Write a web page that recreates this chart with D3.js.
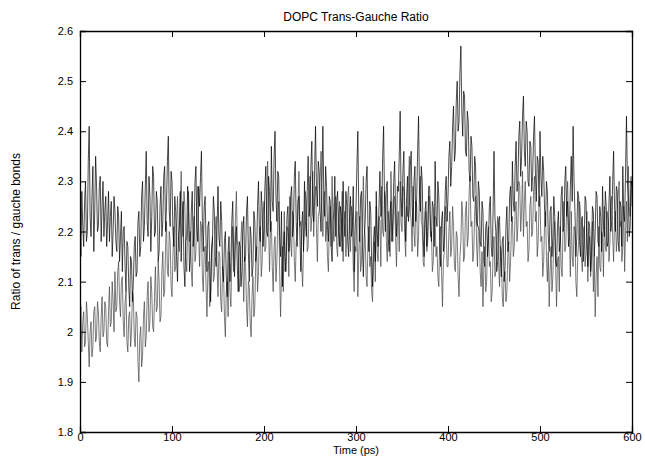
<!DOCTYPE html>
<html>
<head>
<meta charset="utf-8">
<script src="https://cdn.jsdelivr.net/npm/d3@7"></script>
<style>
  body { margin: 0; background: white; }
  svg { display: block; font-family: "Liberation Sans", Arial, sans-serif; }
</style>
</head>
<body>
<svg id="chart"></svg>
<script>
var WIDTH = 645,
    HEIGHT = 456,
    MARGIN = {top: 31, left: 80, bottom: 24, right: 13},
    LINE_COLOR = "black";

var TITLE = "DOPC Trans-Gauche Ratio",
    X_LABEL = "Time (ps)",
    Y_LABEL = "Ratio of trans / gauche bonds";

var T_STEP = 1;   // ps between samples

// upper trace (black), one row = 20 ps
var seriesA = [
  2.22, 2.15, 2.28, 2.21, 2.17, 2.26, 2.30, 2.18, 2.20, 2.34, 2.41, 2.23, 2.19, 2.27, 2.33, 2.16, 2.24, 2.35, 2.29, 2.20,
  2.21, 2.29, 2.31, 2.18, 2.25, 2.30, 2.19, 2.24, 2.27, 2.17, 2.22, 2.28, 2.18, 2.23, 2.26, 2.15, 2.20, 2.27, 2.24, 2.18,
  2.16, 2.25, 2.23, 2.14, 2.19, 2.24, 2.12, 2.20, 2.21, 2.13, 2.08, 2.18, 2.17, 2.09, 2.05, 2.15, 2.14, 2.06, 2.10, 2.17,
  2.19, 2.11, 2.12, 2.22, 2.24, 2.15, 2.17, 2.27, 2.30, 2.18, 2.21, 2.29, 2.36, 2.22, 2.19, 2.31, 2.27, 2.16, 2.23, 2.33,
  2.31, 2.19, 2.20, 2.28, 2.26, 2.14, 2.16, 2.25, 2.29, 2.19, 2.22, 2.31, 2.33, 2.20, 2.25, 2.34, 2.39, 2.24, 2.21, 2.32,
  2.30, 2.20, 2.17, 2.27, 2.24, 2.15, 2.10, 2.19, 2.21, 2.28, 2.14, 2.22, 2.26, 2.13, 2.09, 2.18, 2.19, 2.29, 2.24, 2.12,
  2.15, 2.24, 2.28, 2.17, 2.20, 2.30, 2.33, 2.21, 2.18, 2.29, 2.25, 2.31, 2.36, 2.22, 2.16, 2.25, 2.27, 2.18, 2.12, 2.21,
  2.22, 2.13, 2.06, 2.16, 2.18, 2.27, 2.24, 2.15, 2.13, 2.21, 2.29, 2.19, 2.17, 2.26, 2.22, 2.12, 2.10, 2.18, 2.20, 2.11,
  2.07, 2.16, 2.19, 2.10, 2.14, 2.22, 2.26, 2.15, 2.11, 2.19, 2.21, 2.13, 2.08, 2.18, 2.17, 2.09, 2.12, 2.20, 2.23, 2.14,
  2.15, 2.24, 2.27, 2.16, 2.10, 2.21, 2.19, 2.11, 2.13, 2.24, 2.22, 2.14, 2.16, 2.25, 2.30, 2.20, 2.18, 2.28, 2.25, 2.17,
  2.21, 2.29, 2.33, 2.20, 2.19, 2.31, 2.28, 2.20, 2.37, 2.26, 2.24, 2.35, 2.40, 2.27, 2.22, 2.32, 2.31, 2.19, 2.15, 2.24,
  2.09, 2.17, 2.20, 2.12, 2.14, 2.23, 2.25, 2.16, 2.18, 2.27, 2.29, 2.19, 2.21, 2.31, 2.34, 2.22, 2.17, 2.26, 2.27, 2.19,
  2.12, 2.21, 2.24, 2.16, 2.30, 2.22, 2.19, 2.28, 2.35, 2.23, 2.26, 2.33, 2.38, 2.24, 2.22, 2.32, 2.41, 2.29, 2.25, 2.34,
  2.32, 2.24, 2.20, 2.30, 2.41, 2.27, 2.23, 2.33, 2.29, 2.21, 2.18, 2.27, 2.26, 2.17, 2.14, 2.22, 2.24, 2.31, 2.19, 2.26,
  2.28, 2.20, 2.17, 2.25, 2.23, 2.16, 2.30, 2.22, 2.19, 2.28, 2.25, 2.18, 2.15, 2.23, 2.27, 2.19, 2.21, 2.29, 2.12, 2.20,
  2.25, 2.33, 2.40, 2.24, 2.18, 2.27, 2.28, 2.17, 2.11, 2.19, 2.22, 2.30, 2.33, 2.21, 2.16, 2.26, 2.24, 2.14, 2.09, 2.18,
  2.21, 2.14, 2.28, 2.20, 2.17, 2.25, 2.32, 2.23, 2.24, 2.35, 2.41, 2.26, 2.20, 2.29, 2.30, 2.19, 2.16, 2.24, 2.26, 2.18,
  2.22, 2.30, 2.34, 2.24, 2.19, 2.29, 2.28, 2.35, 2.44, 2.27, 2.23, 2.32, 2.36, 2.24, 2.18, 2.27, 2.31, 2.22, 2.25, 2.33,
  2.36, 2.25, 2.21, 2.30, 2.33, 2.22, 2.27, 2.36, 2.43, 2.28, 2.24, 2.33, 2.30, 2.19, 2.15, 2.24, 2.26, 2.17, 2.20, 2.29,
  2.29, 2.21, 2.18, 2.26, 2.25, 2.17, 2.34, 2.23, 2.21, 2.30, 2.27, 2.18, 2.13, 2.22, 2.24, 2.16, 2.19, 2.28, 2.31, 2.22,
  2.27, 2.35, 2.38, 2.29, 2.33, 2.41, 2.45, 2.34, 2.36, 2.46, 2.50, 2.40, 2.42, 2.52, 2.57, 2.44, 2.39, 2.48, 2.47, 2.36,
  2.35, 2.44, 2.42, 2.32, 2.30, 2.39, 2.37, 2.27, 2.26, 2.35, 2.33, 2.22, 2.21, 2.30, 2.28, 2.18, 2.17, 2.26, 2.24, 2.14,
  2.13, 2.21, 2.22, 2.15, 2.18, 2.25, 2.27, 2.17, 2.15, 2.24, 2.36, 2.23, 2.20, 2.12, 2.14, 2.22, 2.23, 2.15, 2.11, 2.18,
  2.19, 2.10, 2.13, 2.21, 2.25, 2.16, 2.18, 2.27, 2.29, 2.22, 2.34, 2.26, 2.24, 2.33, 2.38, 2.28, 2.30, 2.39, 2.42, 2.31,
  2.35, 2.43, 2.47, 2.36, 2.33, 2.42, 2.40, 2.30, 2.29, 2.38, 2.37, 2.28, 2.31, 2.39, 2.43, 2.32, 2.26, 2.35, 2.34, 2.25,
  2.40, 2.31, 2.27, 2.35, 2.32, 2.24, 2.21, 2.30, 2.28, 2.19, 2.16, 2.24, 2.25, 2.15, 2.19, 2.27, 2.23, 2.14, 2.13, 2.21,
  2.24, 2.16, 2.18, 2.27, 2.29, 2.20, 2.21, 2.30, 2.33, 2.23, 2.26, 2.17, 2.20, 2.29, 2.35, 2.26, 2.41, 2.30, 2.24, 2.15,
  2.19, 2.28, 2.27, 2.18, 2.15, 2.22, 2.23, 2.14, 2.18, 2.27, 2.26, 2.17, 2.13, 2.22, 2.21, 2.12, 2.16, 2.25, 2.24, 2.15,
  2.20, 2.28, 2.27, 2.18, 2.17, 2.25, 2.23, 2.16, 2.29, 2.21, 2.19, 2.28, 2.25, 2.17, 2.18, 2.26, 2.31, 2.20, 2.22, 2.30,
  2.36, 2.25, 2.20, 2.29, 2.28, 2.18, 2.16, 2.26, 2.25, 2.17, 2.33, 2.24, 2.22, 2.32, 2.43, 2.30, 2.27, 2.19, 2.21, 2.30,
  2.29
];

// lower trace (grey), one row = 20 ps
var seriesB = [
  2.01, 2.05, 1.96, 2.02, 2.04, 1.97, 1.98, 2.06, 2.03, 1.98, 1.93, 2.00, 2.02, 1.95, 1.97, 2.04, 2.05, 1.98, 1.99, 2.06,
  2.04, 1.98, 1.96, 2.03, 2.07, 1.99, 2.00, 2.06, 2.05, 1.98, 1.97, 2.04, 2.09, 2.01, 2.02, 2.10, 2.06, 2.00, 2.12, 2.04,
  2.05, 2.12, 2.14, 2.06, 2.03, 2.10, 2.11, 2.02, 1.99, 2.06, 2.08, 1.98, 1.96, 2.03, 2.04, 1.97, 2.00, 2.08, 2.07, 1.99,
  1.97, 2.04, 2.03, 1.94, 1.90, 1.99, 2.01, 1.93, 1.95, 2.03, 2.06, 1.97, 1.99, 2.07, 2.10, 2.00, 2.02, 2.11, 2.08, 2.01,
  2.00, 2.07, 2.13, 2.04, 2.05, 2.14, 2.10, 2.02, 2.03, 2.12, 2.16, 2.07, 2.08, 2.17, 2.22, 2.12, 2.11, 2.20, 2.18, 2.09,
  2.07, 2.15, 2.21, 2.12, 2.13, 2.22, 2.27, 2.18, 2.16, 2.25, 2.32, 2.21, 2.19, 2.28, 2.25, 2.15, 2.12, 2.21, 2.28, 2.18,
  2.20, 2.12, 2.09, 2.18, 2.23, 2.14, 2.16, 2.25, 2.29, 2.19, 2.13, 2.22, 2.21, 2.11, 2.08, 2.16, 2.17, 2.09, 2.03, 2.12,
  2.14, 2.05, 2.08, 2.17, 2.19, 2.10, 2.11, 2.20, 2.23, 2.13, 2.07, 2.16, 2.15, 2.06, 2.04, 2.13, 2.12, 2.03, 1.99, 2.08,
  2.10, 2.03, 2.16, 2.08, 2.05, 2.14, 2.21, 2.12, 2.14, 2.23, 2.28, 2.18, 2.17, 2.08, 2.11, 2.19, 2.22, 2.13, 2.06, 2.15,
  2.13, 2.05, 2.01, 2.10, 2.09, 2.02, 1.99, 2.07, 2.11, 2.03, 2.05, 2.14, 2.17, 2.08, 2.12, 2.20, 2.21, 2.11, 2.14, 2.23,
  2.26, 2.16, 2.17, 2.27, 2.34, 2.21, 2.12, 2.20, 2.22, 2.13, 2.08, 2.17, 2.19, 2.10, 2.14, 2.23, 2.26, 2.12, 2.03, 2.11,
  2.17, 2.08, 2.24, 2.15, 2.12, 2.21, 2.20, 2.11, 2.27, 2.18, 2.15, 2.24, 2.23, 2.14, 2.10, 2.18, 2.19, 2.26, 2.32, 2.21,
  2.22, 2.13, 2.09, 2.17, 2.20, 2.28, 2.26, 2.16, 2.17, 2.25, 2.31, 2.20, 2.23, 2.32, 2.19, 2.26, 2.29, 2.21, 2.14, 2.23,
  2.24, 2.30, 2.36, 2.25, 2.19, 2.27, 2.28, 2.18, 2.22, 2.15, 2.12, 2.21, 2.25, 2.17, 2.31, 2.22, 2.18, 2.26, 2.27, 2.17,
  2.15, 2.23, 2.26, 2.17, 2.20, 2.28, 2.14, 2.22, 2.24, 2.15, 2.19, 2.27, 2.29, 2.20, 2.16, 2.25, 2.22, 2.13, 2.08, 2.17,
  2.16, 2.24, 2.07, 2.15, 2.23, 2.12, 2.14, 2.22, 2.31, 2.21, 2.19, 2.11, 2.09, 2.18, 2.21, 2.13, 2.15, 2.08, 2.06, 2.14,
  2.18, 2.10, 2.25, 2.16, 2.14, 2.23, 2.22, 2.13, 2.29, 2.20, 2.19, 2.28, 2.27, 2.18, 2.14, 2.24, 2.21, 2.15, 2.32, 2.23,
  2.18, 2.26, 2.27, 2.19, 2.13, 2.21, 2.24, 2.16, 2.30, 2.22, 2.20, 2.29, 2.28, 2.19, 2.15, 2.25, 2.23, 2.30, 2.35, 2.24,
  2.22, 2.16, 2.29, 2.20, 2.17, 2.26, 2.25, 2.15, 2.19, 2.28, 2.31, 2.22, 2.21, 2.14, 2.13, 2.22, 2.24, 2.16, 2.18, 2.27,
  2.27, 2.19, 2.20, 2.12, 2.14, 2.22, 2.23, 2.15, 2.17, 2.11, 2.09, 2.18, 2.21, 2.12, 2.05, 2.14, 2.16, 2.25, 2.22, 2.13,
  2.13, 2.20, 2.24, 2.15, 2.17, 2.25, 2.21, 2.13, 2.12, 2.20, 2.19, 2.11, 2.07, 2.15, 2.18, 2.26, 2.23, 2.14, 2.15, 2.24,
  2.26, 2.17, 2.19, 2.28, 2.31, 2.21, 2.22, 2.14, 2.16, 2.24, 2.27, 2.18, 2.13, 2.21, 2.20, 2.12, 2.09, 2.16, 2.05, 2.13,
  2.17, 2.08, 2.10, 2.18, 2.21, 2.13, 2.14, 2.06, 2.08, 2.16, 2.19, 2.11, 2.12, 2.20, 2.23, 2.14, 2.09, 2.17, 2.16, 2.07,
  2.05, 2.11, 2.12, 2.06, 2.08, 2.15, 2.18, 2.10, 2.14, 2.21, 2.23, 2.15, 2.17, 2.24, 2.26, 2.18, 2.21, 2.30, 2.29, 2.20,
  2.24, 2.32, 2.19, 2.26, 2.30, 2.21, 2.22, 2.14, 2.16, 2.25, 2.27, 2.19, 2.20, 2.28, 2.31, 2.22, 2.24, 2.15, 2.18, 2.26,
  2.27, 2.18, 2.19, 2.11, 2.14, 2.22, 2.24, 2.15, 2.10, 2.16, 2.05, 2.12, 2.17, 2.08, 2.11, 2.19, 2.22, 2.13, 2.05, 2.14,
  2.15, 2.08, 2.21, 2.13, 2.11, 2.20, 2.26, 2.16, 2.17, 2.25, 2.30, 2.21, 2.19, 2.11, 2.24, 2.15, 2.13, 2.21, 2.20, 2.10,
  2.07, 2.15, 2.18, 2.26, 2.24, 2.15, 2.12, 2.20, 2.21, 2.13, 2.16, 2.24, 2.10, 2.17, 2.19, 2.11, 2.14, 2.22, 2.08, 2.15,
  2.03, 2.11, 2.15, 2.07, 2.21, 2.13, 2.12, 2.20, 2.19, 2.11, 2.25, 2.17, 2.16, 2.24, 2.22, 2.14, 2.18, 2.26, 2.27, 2.19,
  2.14, 2.22, 2.24, 2.16, 2.19, 2.27, 2.30, 2.21, 2.22, 2.14, 2.17, 2.25, 2.12, 2.20, 2.26, 2.18, 2.33, 2.25, 2.23, 2.31,
  2.25
];

var X_TICKS = [0, 100, 200, 300, 400, 500, 600];
var Y_TICKS = [1.8, 1.9, 2.0, 2.1, 2.2, 2.3, 2.4, 2.5, 2.6];
var Y_TICK_LABELS = ["1.8", "1.9", "2", "2.1", "2.2", "2.3", "2.4", "2.5", "2.6"];

var plotW = WIDTH - MARGIN.left - MARGIN.right,
    plotH = HEIGHT - MARGIN.top - MARGIN.bottom;

var x = d3.scaleLinear().domain([0, 600]).range([0, plotW]);
var y = d3.scaleLinear().domain([1.8, 2.6]).range([plotH, 0]);

var svg = d3.select("#chart")
    .attr("width", WIDTH)
    .attr("height", HEIGHT);

svg.append("text")
    .attr("x", MARGIN.left + plotW / 2)
    .attr("y", 21)
    .style("font-size", "12px")
    .style("text-anchor", "middle")
    .text(TITLE);

var g = svg.append("g")
    .attr("transform", "translate(" + MARGIN.left + "," + MARGIN.top + ")");

g.append("clipPath")
    .attr("id", "clip")
  .append("rect")
    .attr("width", plotW)
    .attr("height", plotH);

var line = d3.line()
    .x(function(d, i) { return x(i * T_STEP); })
    .y(function(d) { return y(d); });

g.append("path")
    .datum(seriesB)
    .attr("clip-path", "url(#clip)")
    .attr("d", line)
    .style("fill", "none")
    .style("stroke", "#444")
    .style("stroke-width", 0.7);

g.append("path")
    .datum(seriesA)
    .attr("clip-path", "url(#clip)")
    .attr("d", line)
    .style("fill", "none")
    .style("stroke", "#000")
    .style("stroke-width", 0.7);

// axes, ticks pointing inwards, mirrored on top and right
var xAxis = g.append("g")
    .attr("transform", "translate(0," + plotH + ")")
    .call(d3.axisBottom(x).tickValues(X_TICKS).tickSize(-6).tickPadding(1).tickFormat(d3.format("d")));
var xTop = g.append("g")
    .call(d3.axisTop(x).tickValues(X_TICKS).tickSize(-6).tickFormat(""));
var yAxis = g.append("g")
    .call(d3.axisLeft(y).tickValues(Y_TICKS).tickSize(-6).tickPadding(7)
        .tickFormat(function(d, i) { return Y_TICK_LABELS[i]; }));
var yRight = g.append("g")
    .attr("transform", "translate(" + plotW + ",0)")
    .call(d3.axisRight(y).tickValues(Y_TICKS).tickSize(-6).tickFormat(""));

[xAxis, xTop, yAxis, yRight].forEach(function(a) {
    a.select(".domain").style("stroke", LINE_COLOR).style("stroke-width", 1.3);
    a.selectAll(".tick line").style("stroke", LINE_COLOR);
    a.selectAll("text")
        .style("font-family", "'Liberation Sans', Arial, sans-serif")
        .style("font-size", "11px")
        .style("fill", "black");
});

svg.append("text")
    .attr("x", MARGIN.left + plotW / 2)
    .attr("y", 454)
    .style("font-size", "11px")
    .style("text-anchor", "middle")
    .text(X_LABEL);

svg.append("text")
    .attr("transform", "translate(20," + (MARGIN.top + plotH / 2) + ") rotate(-90)")
    .style("font-size", "12px")
    .style("text-anchor", "middle")
    .text(Y_LABEL);
</script>
</body>
</html>
